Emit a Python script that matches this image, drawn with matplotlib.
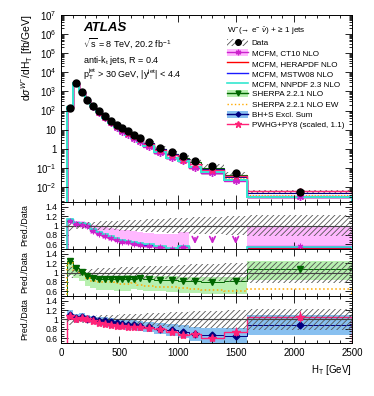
import numpy as np
import matplotlib.pyplot as plt
from matplotlib.patches import Patch
from matplotlib.lines import Line2D
from matplotlib.ticker import FixedLocator, MultipleLocator, FuncFormatter, LogLocator, NullFormatter

plt.rcParams['font.family'] = ['Liberation Sans', 'DejaVu Sans']
plt.rcParams['mathtext.fontset'] = 'custom'
plt.rcParams['mathtext.rm'] = 'Liberation Sans'
plt.rcParams['mathtext.it'] = 'Liberation Sans:italic'
plt.rcParams['mathtext.bf'] = 'Liberation Sans:bold'
plt.rcParams['hatch.linewidth'] = 0.6
plt.rcParams['hatch.color'] = '#555555'

# bin edges in H_T [GeV]
edges = np.array([50, 100, 150, 200, 250, 300, 350, 400, 450, 500, 550, 600, 650, 700,
                  800, 900, 1000, 1100, 1200, 1400, 1600, 2500])

# measured cross section [fb/GeV] and relative total uncertainty
data = np.array([130, 2600, 930, 370, 175, 92, 50, 30, 18, 12, 8.1, 5.4, 3.7,
                 2.3, 1.17, 0.67, 0.42, 0.24, 0.13, 0.052, 0.0058])
data_unc = np.array([0.12, 0.08, 0.07, 0.07, 0.08, 0.09, 0.09, 0.10, 0.10, 0.11, 0.11,
                     0.12, 0.12, 0.13, 0.14, 0.15, 0.16, 0.18, 0.19, 0.21, 0.22])

# pred/data ratios
r_ct10 = np.array([1.09, 1.03, 1.02, 0.98, 0.88, 0.82, 0.77, 0.73, 0.69, 0.66, 0.64,
                   0.61, 0.59, 0.57, 0.54, 0.50, 0.54, 0.43, 0.42, 0.43, 0.56])
ct10_up = np.array([0.06, 0.06, 0.08, 0.10, 0.14, 0.18, 0.20, 0.22, 0.24, 0.25, 0.26,
                    0.27, 0.28, 0.28, 0.29, 0.32, 0.32, 0.05, 0.05, 0.05, 0.40])
ct10_dn = np.array([0.04, 0.04, 0.04, 0.05, 0.05, 0.05, 0.05, 0.05, 0.05, 0.05, 0.05,
                    0.05, 0.05, 0.05, 0.05, 0.05, 0.05, 0.05, 0.05, 0.05, 0.03])
r_hera = np.array([1.10, 1.05, 1.04, 1.00, 0.90, 0.84, 0.78, 0.74, 0.71, 0.68, 0.65,
                   0.62, 0.61, 0.58, 0.55, 0.51, 0.55, 0.44, 0.43, 0.44, 0.53])
r_mstw = np.array([1.14, 1.07, 1.05, 1.02, 0.92, 0.86, 0.80, 0.76, 0.72, 0.69, 0.66,
                   0.64, 0.62, 0.59, 0.55, 0.51, 0.56, 0.45, 0.44, 0.45, 0.54])
r_nnpdf = np.array([1.13, 1.06, 1.06, 1.03, 0.93, 0.87, 0.81, 0.77, 0.73, 0.70, 0.67,
                    0.65, 0.63, 0.60, 0.56, 0.52, 0.57, 0.46, 0.45, 0.46, 0.55])

r_sherpa = np.array([1.25, 1.09, 1.01, 0.93, 0.89, 0.87, 0.87, 0.87, 0.86, 0.86, 0.87,
                     0.86, 0.88, 0.86, 0.85, 0.84, 0.82, 0.82, 0.80, 0.81, 1.07])
sherpa_up = np.array([0.05, 0.05, 0.05, 0.06, 0.06, 0.06, 0.06, 0.06, 0.07, 0.07, 0.07,
                      0.07, 0.07, 0.07, 0.08, 0.08, 0.08, 0.08, 0.10, 0.10, 0.18])
sherpa_dn = np.array([0.30, 0.20, 0.20, 0.22, 0.22, 0.24, 0.25, 0.25, 0.25, 0.26, 0.26,
                      0.22, 0.26, 0.25, 0.25, 0.25, 0.25, 0.25, 0.26, 0.27, 0.22])
r_sherpa_ew = np.array([1.21, 1.05, 0.97, 0.88, 0.83, 0.80, 0.80, 0.79, 0.77, 0.76, 0.75,
                        0.77, 0.74, 0.71, 0.70, 0.69, 0.68, 0.66, 0.63, 0.61, 0.66])

r_bhs = np.array([1.10, 1.03, 1.05, 1.02, 1.00, 0.97, 0.96, 0.94, 0.92, 0.90, 0.88,
                  0.88, 0.86, 0.84, 0.80, 0.77, 0.74, 0.69, 0.66, 0.65, 0.88])
bhs_unc = np.array([0.10, 0.08, 0.08, 0.08, 0.08, 0.08, 0.09, 0.09, 0.09, 0.10, 0.10,
                    0.10, 0.11, 0.11, 0.12, 0.13, 0.14, 0.15, 0.16, 0.17, 0.22])
r_pwhg = np.array([1.07, 1.02, 1.03, 1.00, 0.97, 0.93, 0.90, 0.89, 0.87, 0.86, 0.85,
                   0.84, 0.84, 0.81, 0.79, 0.74, 0.66, 0.70, 0.61, 0.74, 1.06])
pwhg_unc = np.array([0.03, 0.02, 0.02, 0.02, 0.02, 0.02, 0.02, 0.02, 0.02, 0.03, 0.03,
                     0.03, 0.03, 0.03, 0.03, 0.04, 0.05, 0.05, 0.06, 0.09, 0.12])

centers = 0.5 * (edges[1:] + edges[:-1])

c_ct10 = '#cc22cc'
c_ct10_band = '#ffb8ff'
c_hera = '#ff0000'
c_mstw = '#1a1aff'
c_nnpdf = '#33e8d0'
c_sh = '#006600'
c_sh_band = '#b8f0b0'
c_ew = '#ffaa00'
c_bhs = '#000080'
c_bhs_band = '#88c0f0'
c_pw = '#ff2277'
star6 = (6, 2, 0)

fig = plt.figure(figsize=(3.74, 3.96), dpi=100)
ax = fig.add_axes([0.164, 0.490, 0.777, 0.473])
r1 = fig.add_axes([0.164, 0.371, 0.777, 0.119])
r2 = fig.add_axes([0.164, 0.2525, 0.777, 0.1185])
r3 = fig.add_axes([0.164, 0.134, 0.777, 0.1185])

# ---- main panel
ax.stairs(data * (r_ct10 + 0.08), edges, baseline=data * (r_ct10 - ct10_dn),
          fill=True, color=c_ct10_band, lw=0)
ax.stairs(data * (1 + data_unc), edges, baseline=data * (1 - data_unc), fill=True,
          facecolor='none', edgecolor='#555555', hatch='//////', lw=0)
ax.stairs(data * r_sherpa, edges, baseline=1e-5, color=c_sh, lw=0.8)
ax.stairs(data * r_sherpa_ew, edges, baseline=1e-5, color=c_ew, lw=0.8, ls=':')
ax.stairs(data * r_bhs, edges, baseline=1e-5, color=c_bhs, lw=0.8)
ax.stairs(data * r_hera, edges, baseline=1e-5, color=c_hera, lw=1.0)
ax.stairs(data * r_mstw, edges, baseline=1e-5, color=c_mstw, lw=1.0)
ax.stairs(data * r_ct10, edges, baseline=1e-5, color=c_ct10, lw=1.0)
ax.stairs(data * r_pwhg, edges, baseline=1e-5, color=c_pw, lw=1.0)
ax.stairs(data * r_nnpdf, edges, baseline=1e-5, color=c_nnpdf, lw=1.4)
ax.plot(centers, data * r_ct10, ls='none', marker=star6, ms=5, mew=1, color=c_ct10)
ax.plot(centers, data * r_pwhg, ls='none', marker='*', ms=5, color=c_pw)
ax.plot(centers, data, ls='none', marker='o', ms=5, color='black')
ax.set_yscale('log')
ax.set_ylim(1.7e-3, 1e7)
ax.yaxis.set_major_locator(LogLocator(base=10, numticks=20))
ax.yaxis.set_minor_locator(LogLocator(base=10, subs=np.arange(2, 10), numticks=200))
ax.yaxis.set_minor_formatter(NullFormatter())


def logfmt(v, pos):
    e = int(round(np.log10(v)))
    if e == 0:
        return '1'
    if e == 1:
        return '10'
    return r'$10^{%d}$' % e


ax.yaxis.set_major_formatter(FuncFormatter(logfmt))

ax.text(0.075, 0.928, 'ATLAS', transform=ax.transAxes, fontsize=9.5, fontweight='bold',
        fontstyle='italic', va='center')
ax.text(0.075, 0.848, r'$\sqrt{\rm s}$ = 8 TeV, 20.2 fb$^{-1}$', transform=ax.transAxes,
        fontsize=6.5, va='center')
ax.text(0.075, 0.757, r'anti-k$_{\rm t}$ jets, R = 0.4', transform=ax.transAxes,
        fontsize=6.5, va='center')
ax.text(0.075, 0.683, r'p$_{\rm T}^{\rm jet}$ > 30 GeV, |y$^{\rm jet}$| < 4.4',
        transform=ax.transAxes, fontsize=6.5, va='center')

h_data = (Patch(facecolor='none', edgecolor='#555555', hatch='//////', lw=0),
          Line2D([], [], ls='none', marker='o', ms=4, color='black'))
h_ct10 = (Patch(color=c_ct10_band, lw=0),
          Line2D([], [], color=c_ct10, marker=star6, ms=4, lw=1))
h_hera = Line2D([], [], color=c_hera, lw=1)
h_mstw = Line2D([], [], color=c_mstw, lw=1)
h_nnpdf = Line2D([], [], color=c_nnpdf, lw=1.2)
h_sh = (Patch(color=c_sh_band, lw=0), Line2D([], [], color=c_sh, marker='v', ms=3.5, lw=1))
h_ew = Line2D([], [], color=c_ew, lw=1, ls=':')
h_bhs = (Patch(color=c_bhs_band, lw=0), Line2D([], [], color=c_bhs, marker='D', ms=2.5, lw=1))
h_pw = Line2D([], [], color=c_pw, marker='*', ms=4.5, lw=1)
leg = ax.legend([h_data, h_ct10, h_hera, h_mstw, h_nnpdf, h_sh, h_ew, h_bhs, h_pw],
                ['Data', 'MCFM, CT10 NLO', 'MCFM, HERAPDF NLO', 'MCFM, MSTW08 NLO',
                 'MCFM, NNPDF 2.3 NLO', 'SHERPA 2.2.1 NLO', 'SHERPA 2.2.1 NLO EW',
                 'BH+S Excl. Sum', 'PWHG+PY8 (scaled, 1.1)'],
                title=r'W$^{-}$(→ e$^{-}$ $\bar{\nu}$) + ≥ 1 jets',
                loc='upper left', bbox_to_anchor=(0.556, 0.965), frameon=False,
                fontsize=5.9, title_fontsize=5.9, borderpad=0, labelspacing=0.25,
                handlelength=2.6, handleheight=0.9, handletextpad=0.4, alignment='left')

# ---- ratio panel 1: MCFM
for r in (r1, r2, r3):
    r.stairs(1 + data_unc, edges, baseline=1 - data_unc, fill=True, facecolor='none',
             edgecolor='#555555', hatch='//////', lw=0, zorder=3)
    r.axhline(1, color='#444444', lw=0.8, zorder=4)

r1.stairs(r_ct10 + ct10_up, edges, baseline=r_ct10 - ct10_dn, fill=True,
          color=c_ct10_band, lw=0, zorder=1)
r1.stairs(r_hera, edges, baseline=0, color=c_hera, lw=1.0, zorder=2)
r1.stairs(r_mstw, edges, baseline=0, color=c_mstw, lw=1.0, zorder=2)
r1.stairs(r_ct10, edges, baseline=0, color=c_ct10, lw=1.0, zorder=2)
r1.stairs(r_nnpdf, edges, baseline=0, color=c_nnpdf, lw=1.2, zorder=2)
r1.plot(centers, r_ct10, ls='none', marker=star6, ms=4, mew=0.8, color=c_ct10, zorder=5)
for c, v in zip(centers, r_ct10):
    if v < 0.5:
        r1.annotate('', xy=(c, 0.55), xytext=(c, 0.8),
                    arrowprops=dict(arrowstyle='->', color=c_ct10, lw=1.2))

# ---- ratio panel 2: SHERPA
r2.stairs(r_sherpa + sherpa_up, edges, baseline=r_sherpa - sherpa_dn, fill=True,
          color=c_sh_band, lw=0, zorder=1)
r2.stairs(r_sherpa, edges, baseline=0, color=c_sh, lw=0.7, zorder=2)
r2.stairs(r_sherpa_ew, edges, baseline=0, color=c_ew, lw=1.1, ls=':', zorder=2)
r2.plot(centers, r_sherpa, ls='none', marker='v', ms=4.5, color=c_sh, zorder=5)

# ---- ratio panel 3: BH+S and PWHG
r3.stairs(r_bhs + bhs_unc, edges, baseline=r_bhs - bhs_unc, fill=True,
          color=c_bhs_band, lw=0, zorder=1)
r3.stairs(r_bhs, edges, baseline=0, color=c_bhs, lw=0.7, zorder=2)
r3.stairs(r_pwhg, edges, baseline=0, color=c_pw, lw=1.0, zorder=2)
r3.errorbar(centers, r_bhs, yerr=bhs_unc * 0.3, ls='none', marker='D', ms=3.5,
            color=c_bhs, elinewidth=0.8, zorder=5)
r3.errorbar(centers, r_pwhg, yerr=pwhg_unc, ls='none', marker='*', ms=6,
            color=c_pw, elinewidth=0.8, zorder=6)

for a in (ax, r1, r2, r3):
    a.set_xlim(0, 2500)
    a.xaxis.set_major_locator(MultipleLocator(500))
    a.xaxis.set_minor_locator(MultipleLocator(100))
    a.tick_params(which='both', direction='in', top=True, right=True, labelsize=7, width=0.6)
    a.tick_params(which='major', length=5)
    a.tick_params(which='minor', length=2.5)
    for s in a.spines.values():
        s.set_linewidth(0.7)
    if a is not r3:
        a.tick_params(labelbottom=False)

for r in (r1, r2, r3):
    r.set_ylim(0.5, 1.5)
    r.yaxis.set_major_locator(FixedLocator([0.6, 0.8, 1.0, 1.2, 1.4]))
    r.yaxis.set_minor_locator(MultipleLocator(0.05))
    r.yaxis.set_major_formatter(FuncFormatter(lambda v, p: '%g' % round(v, 2)))
    r.tick_params(axis='y', labelsize=6.2, pad=2.5)

fig.text(0.072, 0.963, r'd$\sigma^{W^{-}}$/dH$_{\rm T}$ [fb/GeV]', rotation=90,
         ha='center', va='top', fontsize=7.5)
for r in (r1, r2, r3):
    b = r.get_position()
    fig.text(0.067, b.y0 + b.height / 2, 'Pred./Data', rotation=90, ha='center',
             va='center', fontsize=6.3)
fig.text(0.941, 0.066, r'H$_{\rm T}$ [GeV]', ha='right', va='center', fontsize=7)

fig.savefig('out.png', dpi=100)
